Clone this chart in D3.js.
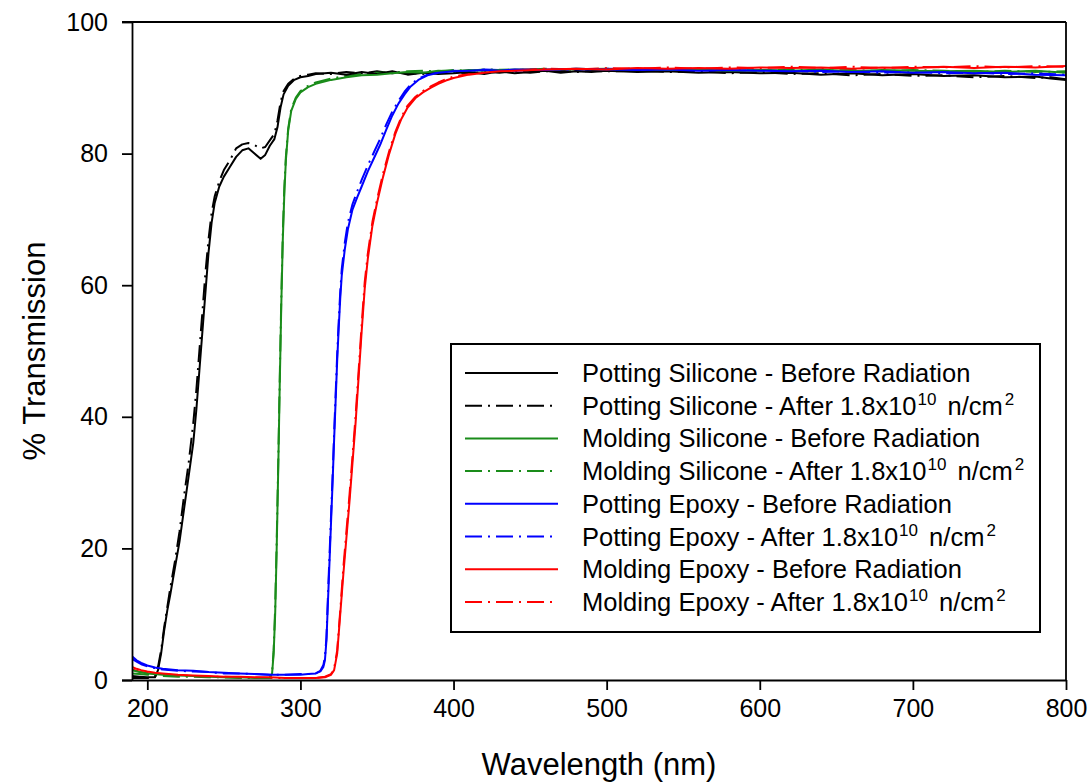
<!DOCTYPE html>
<html>
<head>
<meta charset="utf-8">
<script src="https://cdn.jsdelivr.net/npm/d3@7"></script>
<style>
  body { margin: 0; background: #fff; }
  text { font-family: "Liberation Sans", Arial, sans-serif; }
</style>
</head>
<body>
<div id="graph"></div>
<script>
// transmission curves, [wavelength nm, % transmission]
const pottingSiliconeBefore = [[190,0.6],[195,0.5],[200,0.4],[205,0.4],[207,1.5],[209,4],[211,7.5],[213,10.5],[215,13],[218,17],[221,21],[224,26],[227,31],[230,36],[232,41],[234,47],[236,53],[238,59],[240,65],[242,69.5],[244,72.5],[247,75],[250,76.5],[254,78],[258,79.5],[262,80.5],[266,80.8],[270,80],[274,79.2],[277,79.8],[280,81.2],[283,82.2],[285,84],[287,87],[289,89],[292,90.3],[296,91.2],[300,91.6],[305,91.8],[310,92.1],[320,92.3],[330,92.0],[340,92.4],[350,92.1],[360,92.5],[370,92.0],[380,92.3],[390,92.1],[400,92.2],[410,92.4],[420,92.1],[430,92.5],[440,92.2],[450,92.4],[460,92.6],[470,92.3],[480,92.5],[490,92.4],[500,92.6],[520,92.4],[540,92.5],[560,92.3],[580,92.4],[600,92.2],[620,92.3],[640,92.0],[660,92.2],[680,91.9],[700,92.1],[720,91.8],[740,91.9],[760,91.6],[780,91.7],[790,91.4],[800,91.2]];
const pottingSiliconeAfter = [[190,0.3],[195,0.3],[200,0.3],[205,0.5],[207,2],[209,4.5],[211,8],[213,11],[215,14],[218,18],[221,22.5],[224,28],[227,33],[230,39],[232,44],[234,50],[236,56],[238,62],[240,67],[242,71],[244,73.5],[247,75.8],[250,77.5],[254,79],[258,80.8],[262,81.4],[266,81.6],[270,81.3],[274,80.8],[277,81],[280,82],[283,83],[285,85],[287,87.8],[289,89.5],[292,90.6],[296,91.4],[300,91.8],[305,92.0],[310,92.2],[320,92.1],[330,92.4],[340,92.2],[350,92.5],[360,92.2],[370,92.3],[380,92.1],[390,92.3],[400,92.4],[410,92.2],[420,92.4],[430,92.3],[440,92.5],[450,92.3],[460,92.5],[470,92.6],[480,92.4],[490,92.6],[500,92.5],[520,92.6],[540,92.4],[560,92.5],[580,92.2],[600,92.4],[620,92.1],[640,92.2],[660,91.9],[680,92.1],[700,91.8],[720,91.9],[740,91.6],[760,91.8],[780,91.5],[790,91.6],[800,91.3]];
const moldingSiliconeBefore = [[190,1.5],[195,1.2],[200,1.0],[210,0.8],[220,0.7],[230,0.6],[240,0.5],[250,0.4],[260,0.4],[270,0.3],[280,0.3],[281.5,1],[282.5,4],[283.5,10],[284.5,20],[285.5,32],[286.5,45],[287.5,57],[288.5,67],[289.5,74],[290.5,79],[292,83.5],[294,86.5],[297,88.3],[300,89.3],[305,90.1],[310,90.6],[320,91.2],[330,91.6],[340,91.9],[350,92.0],[360,92.2],[370,92.4],[380,92.3],[390,92.6],[400,92.5],[410,92.7],[420,92.6],[440,92.8],[460,92.7],[480,92.9],[500,92.8],[520,92.9],[540,92.7],[560,92.8],[580,92.6],[600,92.7],[620,92.6],[640,92.8],[660,92.5],[680,92.7],[700,92.6],[720,92.5],[740,92.6],[760,92.4],[780,92.6],[800,92.3]];
const moldingSiliconeAfter = [[190,1.0],[195,0.9],[200,0.8],[210,0.6],[220,0.5],[230,0.5],[240,0.4],[250,0.4],[260,0.3],[270,0.3],[280,0.3],[281.5,1.2],[282.5,4.5],[283.5,11],[284.5,21],[285.5,33],[286.5,46],[287.5,58],[288.5,68],[289.5,75],[290.5,79.5],[292,83.8],[294,86.8],[297,88.5],[300,89.5],[305,90.3],[310,90.8],[320,91.4],[330,91.8],[340,92.1],[350,92.3],[360,92.3],[370,92.5],[380,92.6],[390,92.5],[400,92.7],[410,92.6],[420,92.8],[440,92.7],[460,92.9],[480,92.8],[500,92.9],[520,92.7],[540,92.8],[560,92.7],[580,92.8],[600,92.6],[620,92.8],[640,92.6],[660,92.7],[680,92.5],[700,92.7],[720,92.6],[740,92.4],[760,92.6],[780,92.4],[800,92.5]];
const pottingEpoxyBefore = [[190,3.6],[193,3.0],[196,2.6],[200,2.2],[205,1.9],[210,1.7],[220,1.5],[230,1.4],[240,1.2],[250,1.1],[260,1.0],[270,0.9],[280,0.8],[290,0.8],[300,0.8],[305,0.9],[310,1.0],[313,1.3],[315,2.0],[316,3],[317,6],[318,12],[319,18],[320,24],[321,30],[322,36.5],[323,42.5],[324,48.5],[325,53.5],[326,58],[327,61.5],[329,65.5],[331,68.5],[334,71.5],[337,73.3],[340,75],[344,77.3],[348,79.3],[352,81.3],[356,83.6],[360,85.8],[364,87.6],[368,89],[372,90.2],[377,91.2],[383,91.9],[390,92.3],[400,92.5],[410,92.6],[420,92.7],[430,92.6],[440,92.8],[460,92.7],[480,92.9],[500,92.8],[520,92.7],[540,92.8],[560,92.6],[580,92.7],[600,92.6],[620,92.5],[640,92.6],[660,92.4],[680,92.5],[700,92.3],[720,92.4],[740,92.2],[760,92.3],[780,92.0],[800,91.9]];
const pottingEpoxyAfter = [[190,3.2],[193,2.8],[196,2.4],[200,2.1],[205,1.8],[210,1.6],[220,1.4],[230,1.3],[240,1.2],[250,1.0],[260,1.0],[270,0.9],[280,0.8],[290,0.8],[300,0.9],[305,0.9],[310,1.0],[313,1.4],[315,2.3],[316,3.5],[317,6.5],[318,13],[319,19],[320,25],[321,31],[322,37.5],[323,43.5],[324,49.5],[325,54.5],[326,59],[327,62.5],[329,66.5],[331,69.5],[334,72.3],[337,74.2],[340,76],[344,78.2],[348,80.2],[352,82.2],[356,84.4],[360,86.4],[364,88],[368,89.4],[372,90.5],[377,91.4],[383,92.0],[390,92.4],[400,92.6],[410,92.5],[420,92.8],[430,92.7],[440,92.6],[460,92.8],[480,92.7],[500,92.9],[520,92.8],[540,92.6],[560,92.7],[580,92.5],[600,92.7],[620,92.6],[640,92.4],[660,92.5],[680,92.3],[700,92.4],[720,92.2],[740,92.3],[760,92.1],[780,92.2],[800,92.0]];
const moldingEpoxyBefore = [[190,2.0],[193,1.7],[196,1.5],[200,1.3],[205,1.1],[210,1.0],[220,0.8],[230,0.7],[240,0.6],[250,0.5],[260,0.5],[270,0.4],[280,0.4],[290,0.3],[300,0.3],[310,0.3],[316,0.4],[320,0.8],[322,1.5],[324,4],[326,10],[328,16],[330,21.5],[332,27],[334,33],[336,39],[338,46],[340,53],[342,59.5],[344,64],[347,69],[350,72.5],[354,76.5],[358,80],[362,83],[366,85.3],[370,87],[375,88.4],[380,89.3],[385,90.0],[390,90.6],[395,91.1],[400,91.5],[410,92.0],[420,92.3],[430,92.5],[440,92.6],[460,92.8],[480,92.9],[500,92.8],[520,93.0],[540,92.9],[560,93.0],[580,92.9],[600,93.1],[620,93.0],[640,93.1],[660,92.9],[680,93.1],[700,93.0],[720,93.2],[740,93.0],[760,93.2],[780,93.1],[800,93.3]];
const moldingEpoxyAfter = [[190,1.6],[193,1.4],[196,1.2],[200,1.1],[205,1.0],[210,0.9],[220,0.7],[230,0.6],[240,0.5],[250,0.5],[260,0.4],[270,0.4],[280,0.3],[290,0.3],[300,0.3],[310,0.3],[316,0.5],[320,0.9],[322,1.7],[324,4.5],[326,10.5],[328,17],[330,22.5],[332,28],[334,34],[336,40],[338,47],[340,54],[342,60.5],[344,64.8],[347,69.6],[350,73],[354,77],[358,80.4],[362,83.3],[366,85.6],[370,87.3],[375,88.6],[380,89.5],[385,90.2],[390,90.8],[395,91.3],[400,91.7],[410,92.1],[420,92.4],[430,92.6],[440,92.7],[460,92.9],[480,92.8],[500,93.0],[520,92.9],[540,93.1],[560,92.9],[580,93.1],[600,93.0],[620,93.2],[640,93.0],[660,93.2],[680,93.0],[700,93.2],[720,93.1],[740,93.3],[760,93.1],[780,93.3],[800,93.2]];

const xTicks = [200, 300, 400, 500, 600, 700, 800];
const yTicks = [0, 20, 40, 60, 80, 100];

const series = [
  { name: "Potting Silicone - Before Radiation", data: pottingSiliconeBefore, color: "#000000", dashed: false },
  { name: "Potting Silicone - After", data: pottingSiliconeAfter, color: "#000000", dashed: true },
  { name: "Molding Silicone - Before Radiation", data: moldingSiliconeBefore, color: "#1a8c1a", dashed: false },
  { name: "Molding Silicone - After", data: moldingSiliconeAfter, color: "#1a8c1a", dashed: true },
  { name: "Potting Epoxy - Before Radiation", data: pottingEpoxyBefore, color: "#0000ff", dashed: false },
  { name: "Potting Epoxy - After", data: pottingEpoxyAfter, color: "#0000ff", dashed: true },
  { name: "Molding Epoxy - Before Radiation", data: moldingEpoxyBefore, color: "#ff0000", dashed: false },
  { name: "Molding Epoxy - After", data: moldingEpoxyAfter, color: "#ff0000", dashed: true }
];

const width = 1091, height = 782;
const margin = { left: 132, right: 25, top: 22, bottom: 102 };
const dashPattern = "17,6,2,6";

const svg = d3.select("#graph").append("svg")
    .attr("width", width)
    .attr("height", height);

const x = d3.scaleLinear().domain([190, 800]).range([margin.left, width - margin.right]);
const y = d3.scaleLinear().domain([0, 100]).range([height - margin.bottom, margin.top]);

svg.append("clipPath").attr("id", "plot")
  .append("rect")
    .attr("x", x(190)).attr("y", y(100))
    .attr("width", x(800) - x(190)).attr("height", y(0) - y(100));

const line = d3.line().x(d => x(d[0])).y(d => y(d[1]));

// draw "after" first so solid lines sit on top
const order = [1, 3, 5, 7, 0, 2, 4, 6];
svg.append("g").attr("clip-path", "url(#plot)")
  .selectAll("path")
  .data(order.map(i => series[i]))
  .join("path")
    .attr("d", d => line(d.data))
    .attr("fill", "none")
    .attr("stroke", d => d.color)
    .attr("stroke-width", 2)
    .attr("stroke-linejoin", "round")
    .attr("stroke-dasharray", d => d.dashed ? dashPattern : null);

// frame: top and right
svg.append("line")
    .attr("x1", x(190) - 10).attr("x2", x(800))
    .attr("y1", y(100)).attr("y2", y(100))
    .attr("stroke", "#000").attr("stroke-width", 1.8);
svg.append("line")
    .attr("x1", x(800)).attr("x2", x(800))
    .attr("y1", y(100)).attr("y2", y(0))
    .attr("stroke", "#000").attr("stroke-width", 1.8);

const xAxis = svg.append("g")
    .attr("transform", `translate(0,${y(0)})`)
    .call(d3.axisBottom(x).tickValues(xTicks).tickSize(10).tickSizeOuter(0).tickPadding(9));
const yAxis = svg.append("g")
    .attr("transform", `translate(${x(190)},0)`)
    .call(d3.axisLeft(y).tickValues(yTicks).tickSize(10).tickSizeOuter(0).tickPadding(14));

[xAxis, yAxis].forEach(g => {
  g.select(".domain").attr("stroke", "#000").attr("stroke-width", 1.8);
  g.selectAll(".tick line").attr("stroke", "#000").attr("stroke-width", 1.8);
  g.selectAll(".tick text")
    .attr("fill", "#000")
    .style("font-family", "'Liberation Sans', Arial, sans-serif")
    .style("font-size", "25px");
});
// extend axis domain to meet the outward tick at the corner
xAxis.select(".domain").attr("d", `M${-10 + x(190)},0.5H${x(800)}`);

svg.append("text")
    .attr("x", 599)
    .attr("y", 775)
    .attr("text-anchor", "middle")
    .style("font-size", "31px")
    .text("Wavelength (nm)");

svg.append("text")
    .attr("transform", `translate(45,351) rotate(-90)`)
    .attr("text-anchor", "middle")
    .style("font-size", "31px")
    .text("% Transmission");

// legend
const legend = svg.append("g");
legend.append("rect")
    .attr("x", 451).attr("y", 344)
    .attr("width", 589).attr("height", 288)
    .attr("fill", "#fff")
    .attr("stroke", "#000")
    .attr("stroke-width", 2);

const rowY = i => 373 + i * 32.7;
const rows = legend.selectAll("g.row").data(series).join("g")
    .attr("class", "row")
    .attr("transform", (d, i) => `translate(0,${rowY(i)})`);

rows.append("line")
    .attr("x1", 465).attr("x2", 558)
    .attr("y1", 0).attr("y2", 0)
    .attr("stroke", d => d.color)
    .attr("stroke-width", 2)
    .attr("stroke-dasharray", d => d.dashed ? dashPattern : null);

const labels = rows.append("text")
    .attr("x", 582)
    .attr("y", 9)
    .style("font-size", "25.5px")
    .attr("fill", "#000");

labels.each(function(d) {
  const t = d3.select(this);
  if (!d.dashed) {
    t.text(d.name);
  } else {
    t.append("tspan").text(d.name + " 1.8x10");
    t.append("tspan").attr("dx", 1).attr("dy", -10).style("font-size", "17px").text("10");
    t.append("tspan").attr("dx", 4).attr("dy", 10).text(" n/cm");
    t.append("tspan").attr("dx", 2).attr("dy", -10).style("font-size", "17px").text("2");
  }
});
</script>
</body>
</html>
